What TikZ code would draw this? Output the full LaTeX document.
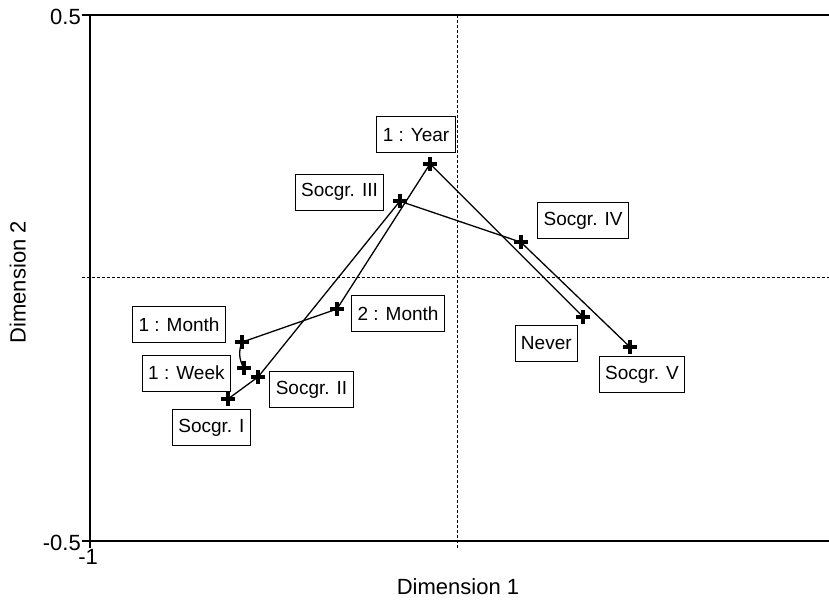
\documentclass[tikz,border=0pt]{standalone}
\usepackage{fontspec}
\setmainfont{Liberation Sans}
\usetikzlibrary{positioning}

\begin{document}
\begin{tikzpicture}[x=368pt,y=526pt,
  lab/.style={draw,line width=0.9pt,fill=white,inner xsep=6pt,inner ysep=0pt,
    minimum height=36pt,font=\fontsize{19}{21}\selectfont},
  tick/.style={font=\fontsize{22}{24}\selectfont,inner sep=0pt},
  axlab/.style={font=\fontsize{22}{24}\selectfont,inner sep=0pt},
  link/.style={line width=1.3pt},
  frame/.style={line width=1.8pt},
  guide/.style={line width=1pt,dash pattern=on 3pt off 2pt},
  plusmark/.style={line width=4.5pt}
]
\useasboundingbox (-1.2446,-0.6179) rectangle (1.0082,0.5285);
% axes and guides
\draw[frame] (-1.022,0.5) -- (1.0082,0.5);
\draw[frame] (-1.022,-0.5) -- (1.0082,-0.5);
\draw[frame] (-1,0.5) -- (-1,-0.513);
\draw[guide] (-1.022,0) -- (1.0082,0);
\draw[guide] (0,0.5) -- (0,-0.513);
\node[tick,anchor=east] (ytop) at (-1.0245,0.496) {0.5};
\node[tick,anchor=east] (ybot) at (-1.0245,-0.504) {-0.5};
\node[tick] (xleft) at (-1.005,-0.531) {-1};
\node[tick] (xright) at (1.022,-0.531) {1};
\node[axlab] (dim1) at (0,-0.587) {Dimension 1};
\node[axlab,rotate=90] (dim2) at (-1.196,-0.008) {Dimension 2};
% points
\coordinate (year) at (-0.076,0.217);
\coordinate (soc3) at (-0.158,0.146);
\coordinate (soc4) at (0.171,0.068);
\coordinate (mon2) at (-0.329,-0.059);
\coordinate (never) at (0.340,-0.074);
\coordinate (soc5) at (0.467,-0.131);
\coordinate (mon1) at (-0.587,-0.122);
\coordinate (week) at (-0.582,-0.171);
\coordinate (soc2) at (-0.543,-0.188);
\coordinate (soc1) at (-0.625,-0.230);
% trajectories
\draw[link] (soc1) -- (soc2) -- (soc3) -- (soc4) -- (soc5);
\draw[link] (week) to[bend left=25] (mon1);
\draw[link] (mon1) -- (mon2) -- (year) -- (never);
\foreach \p in {year,soc3,soc4,mon2,never,soc5,mon1,week,soc2,soc1}
  \draw[plusmark] (\p) ++(-7pt,0) -- ++(14pt,0) (\p) ++(0,-7pt) -- ++(0,14pt);
% labels
\node[lab] (lyear) at (-0.114,0.272) {1 : Year};
\node[lab] (lsoc3) at (-0.322,0.163) {Socgr. III};
\node[lab] (lsoc4) at (0.340,0.109) {Socgr. IV};
\node[lab] (lmon2) at (-0.163,-0.068) {2 : Month};
\node[lab] (lnever) at (0.240,-0.124) {Never};
\node[lab] (lsoc5) at (0.500,-0.184) {Socgr. V};
\node[lab] (lmon1) at (-0.758,-0.089) {1 : Month};
\node[lab] (lweek) at (-0.738,-0.181) {1 : Week};
\node[lab] (lsoc2) at (-0.398,-0.212) {Socgr. II};
\node[lab] (lsoc1) at (-0.670,-0.284) {Socgr. I};
\end{tikzpicture}
\end{document}
